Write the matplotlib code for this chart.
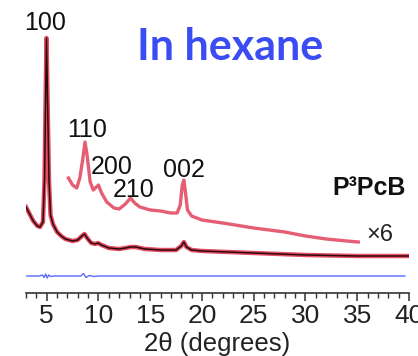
import matplotlib
matplotlib.use("Agg")
import matplotlib.pyplot as plt
from matplotlib.ticker import MultipleLocator

plt.rcParams["font.family"] = ["Liberation Sans", "DejaVu Sans"]

# measured pattern (black fit over red data), arbitrary units
tt_main = [3.0, 3.3, 3.7, 4.1, 4.35, 4.64, 4.79, 4.88, 4.98, 5.1, 5.22, 5.37,
           5.6, 6.0, 6.4, 6.8, 7.5, 8.0, 8.4, 8.65, 8.9, 9.3, 9.7, 9.95, 10.3,
           11.0, 12.0, 12.6, 13.1, 13.6, 14.5, 16.0, 17.5, 18.0, 18.25, 18.5,
           19.0, 20.0, 25.0, 30.0, 35.0, 40.0]
i_main = [86, 80, 72, 67, 66, 71, 113, 183, 255, 183, 113, 78,
          69, 61, 57, 54, 52, 53, 57, 59, 55, 50, 49, 50, 48,
          45, 44, 45, 46, 46, 44, 43, 43, 47, 51, 46,
          43, 42, 40, 38, 37, 37]

# x6 magnified curve
tt_x6 = [7.1, 7.5, 7.9, 8.2, 8.5, 8.7, 8.9, 9.2, 9.5, 9.8, 10.0, 10.3, 10.8,
         11.5, 12.0, 12.6, 13.1, 13.5, 14.0, 15.0, 16.0, 17.0, 17.6, 17.9,
         18.1, 18.25, 18.4, 18.6, 19.0, 20.0, 22.0, 25.0, 28.0, 30.0, 32.0,
         34.0, 35.1]
i_x6 = [115, 108, 105, 115, 135, 151, 138, 111, 103, 106, 108, 100, 91,
        85, 84, 89, 95, 90, 86, 83, 82, 80, 80, 88,
        108, 113, 101, 83, 77, 73, 70, 65, 61, 57, 54,
        52, 51]

# difference curve
tt_diff = [3.0, 4.3, 4.6, 4.75, 4.9, 5.05, 5.2, 5.4, 5.7, 8.3, 8.55, 8.8,
           9.1, 9.6, 10.0, 39.6]
i_diff = [17, 17, 18, 15.5, 19, 15, 18, 16.5, 17, 17, 19.5, 15.5,
          17.5, 16.5, 17, 17]

peak_labels = ["100", "110", "200", "210", "002"]
peak_x = [4.84, 8.94, 11.31, 13.43, 18.27]
peak_y = [270, 163, 126, 103, 123]

red = "#e44c64"

fig = plt.figure(figsize=(4.18, 3.56), dpi=100)
ax = fig.add_axes([26 / 418, 63 / 356, 383 / 418, 293 / 356])

ax.plot(tt_main, i_main, color=red, lw=3.2, solid_joinstyle="round")
ax.plot(tt_main, i_main, color="#2a0a0a", lw=1.1)
ax.plot(tt_x6, i_x6, color=red, lw=2.4, alpha=0.9)
ax.plot(tt_diff, i_diff, color="#5b6cff", lw=1.0)

for lab, x, y in zip(peak_labels, peak_x, peak_y):
    ax.text(x, y, lab, fontsize=18, ha="center", va="center", color="#111111")

ax.set_xlim(3, 40)
ax.set_ylim(0, 293)
for s in ["left", "right", "top"]:
    ax.spines[s].set_visible(False)
ax.spines["bottom"].set_linewidth(1.2)
ax.spines["bottom"].set_color("#333333")
ax.set_yticks([])
ax.xaxis.set_major_locator(MultipleLocator(5))
ax.xaxis.set_minor_locator(MultipleLocator(1))
ax.tick_params(axis="x", which="major", length=6, width=1.1, colors="#333333",
               labelsize=19, labelcolor="#222222", pad=2)
ax.tick_params(axis="x", which="minor", length=3.5, width=1.0, colors="#333333")
ax.set_xlabel("2θ (degrees)", fontsize=18.5, color="#222222", labelpad=2.5)
ax.patch.set_alpha(0)

fig.text(0.550, 0.868, "In hexane", fontsize=31, fontweight="bold",
         color="#3b4cf2", ha="center", va="center", family=["Lato", "DejaVu Sans"])
fig.text(0.883, 0.472, "P³PcB", fontsize=18, fontweight="bold",
         color="#111111", ha="center", va="center")
fig.text(0.909, 0.340, "×6", fontsize=17, color="#222222",
         ha="center", va="center")

fig.savefig("out.png", dpi=100)
